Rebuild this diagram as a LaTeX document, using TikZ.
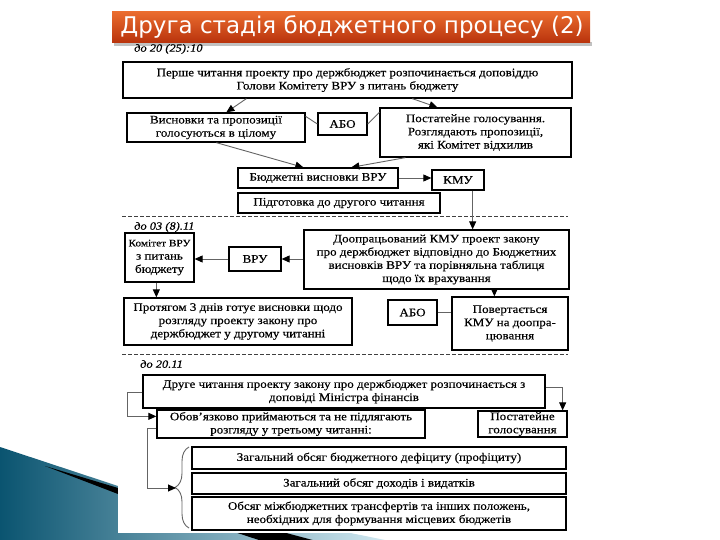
\documentclass[tikz,border=0pt]{standalone}
\usepackage{fontspec}
\setmainfont{Liberation Serif}
\newfontfamily\scanfont[FakeStretch=1.13,FakeBold=0.3]{Liberation Serif}
\newfontfamily\ttlfont{DejaVu Sans}
\usetikzlibrary{arrows.meta,decorations.pathreplacing,calc}
\definecolor{ttltop}{RGB}{234,108,46}
\definecolor{ttlbot}{RGB}{184,50,12}
\definecolor{bdark}{RGB}{10,84,112}
\definecolor{bmid}{RGB}{52,150,196}
\definecolor{blight}{RGB}{214,236,244}
\definecolor{congray}{RGB}{100,100,100}
\tikzset{
  bx/.style={draw=black, line width=1.3pt, fill=white, align=center, inner sep=0pt, font=\scanfont\fontsize{11.5}{13.2}\selectfont},
  con/.style={draw=congray, line width=0.9pt},
  arr/.style={con, -{Triangle[length=8pt,width=7pt,black]}},
  lbl/.style={font=\scanfont\itshape\fontsize{11}{12}\selectfont, anchor=west, inner sep=0pt},
  sepline/.style={draw=black!75, line width=0.8pt, dash pattern=on 4pt off 2pt},
}
\newcommand{\rbox}[6]{%
  \pgfmathsetmacro\rbw{#4-#2}\pgfmathsetmacro\rbh{#5-#3}%
  \pgfmathsetmacro\rbx{(#2+#4)/2}\pgfmathsetmacro\rby{(#3+#5)/2}%
  \node[bx, minimum width=\rbw pt, minimum height=\rbh pt] (#1) at (\rbx,\rby) {#6};}
\begin{document}
\begin{tikzpicture}[x=1pt,y=-1pt]
\useasboundingbox (0,0) rectangle (720,540);
% decoration bottom left
\begin{scope}
\clip (0,0) rectangle (720,540);
\shade[left color=bdark, middle color=bmid, right color=blight] (0,447) -- (118,486) -- (395,542) -- (0,542) -- cycle;
\fill[black] (45,466) -- (118,488) -- (320,542) -- (265,542) -- (118,494) -- cycle;
\end{scope}
\fill[white] (118,43) rectangle (592,533);
% title
\fill[black!40, opacity=.6] (114,42) rectangle (592,46);
\shade[top color=ttltop, bottom color=ttlbot] (112,12) rectangle (590,43);
\node[font=\ttlfont\fontsize{23}{26}\selectfont, text=white, inner sep=0pt] (title) at (352,27) {Друга стадія бюджетного процесу (2)};
% labels
\node[lbl] (d1) at (134,49) {до 20 (25):10};
\node[lbl] (d2) at (134,227) {до 03 (8).11};
\node[lbl] (d3) at (140,364) {до 20.11};
% separators
\draw[sepline] (122,216) -- (568,216);
\draw[sepline] (122,354) -- (568,354);
% boxes
\rbox{b1}{123}{62}{572}{98}{Перше читання проекту про держбюджет розпочинається доповіддю\\Голови Комітету ВРУ з питань бюджету}
\rbox{vysn}{127}{113}{305}{142}{Висновки та пропозиції\\голосуються в цілому}
\rbox{abo1}{318}{113}{367}{135}{АБО}
\rbox{post1}{380}{108}{571}{157}{Постатейне голосування.\\Розглядають пропозиції,\\які Комітет відхилив}
\rbox{bvvru}{238}{168}{398}{188}{Бюджетні висновки ВРУ}
\rbox{kmu1}{432}{170}{484}{190}{КМУ}
\rbox{pidg}{238}{193}{440}{213}{Підготовка до другого читання}
\rbox{kom}{125}{233}{194}{282}{\fontsize{10}{13}\selectfont Комітет ВРУ\\з питань\\бюджету}
\rbox{vru}{229}{247}{281}{271}{ВРУ}
\rbox{doopr}{304}{230}{569}{289}{Доопрацьований КМУ проект закону\\про держбюджет відповідно до Бюджетних\\висновків ВРУ та порівняльна таблиця\\щодо їх врахування}
\rbox{prot}{124}{298}{352}{345}{Протягом 3 днів готує висновки щодо\\розгляду проекту закону про\\держбюджет у другому читанні}
\rbox{abo2}{388}{300}{437}{325}{АБО}
\rbox{povert}{452}{297}{568}{350}{Повертається\\КМУ на доопра-\\цювання}
\rbox{druhe}{143}{375}{545}{408}{Друге читання проекту закону про держбюджет розпочинається з\\доповіді Міністра фінансів}
\rbox{obov}{157}{410}{425}{438}{Обов’язково приймаються та не підлягають\\розгляду у третьому читанні:}
\rbox{post2}{478}{411}{567}{437}{Постатейне\\голосування}
\rbox{def}{192}{447}{566}{469}{Загальний обсяг бюджетного дефіциту (профіциту)}
\rbox{doh}{192}{473}{566}{494}{Загальний обсяг доходів і видатків}
\rbox{mizh}{192}{497}{566}{530}{Обсяг міжбюджетних трансфертів та інших положень,\\необхідних для формування місцевих бюджетів}
% connectors
\draw[arr] ([xshift=124pt]b1.south west) -- ([xshift=100pt]vysn.north west);
\draw[arr] ([xshift=290pt]b1.south west) -- ([xshift=58pt]post1.north west);
\draw[con] ([yshift=-4pt]vysn.north east) -- (abo1.west);
\draw[con] (abo1.east) -- ([yshift=-5pt]post1.north west);
\draw[arr] ([xshift=90pt]vysn.south west) -- ([xshift=66pt]bvvru.north west);
\draw[arr] ([xshift=26pt]post1.south west) -- ([xshift=114pt]bvvru.north west);
\draw[arr] (bvvru.east) -- (kmu1.west |- bvvru.east);
\draw[arr] ([xshift=-12pt]kmu1.south east) -- ([xshift=-12pt]kmu1.south east |- doopr.north);
\draw[arr] (doopr.west |- vru.east) -- (vru.east);
\draw[arr] (vru.west) -- (kom.east |- vru.west);
\draw[arr] ([xshift=32pt]kom.south west) -- ([xshift=32pt]kom.south west |- prot.north);
\draw[arr] ([xshift=43pt]povert.north west |- doopr.south) -- ([xshift=43pt]povert.north west);
\draw[con] (abo2.east) -- (povert.west |- abo2.east);
\draw[arr] ([yshift=-18pt]druhe.north west) -- ++(-15,0) |- ([yshift=-7pt]obov.north west);
\draw[arr] ([yshift=-13pt]druhe.north east) -| ([xshift=-5pt]post2.north east);
\coordinate (bt) at (176,488);
\draw[con, decorate, decoration={brace, amplitude=14pt}] (189,528) -- (189,447);
\draw[arr] ([yshift=10pt]obov.south west) -- ++(-9,0) |- (bt);
\end{tikzpicture}
\end{document}
